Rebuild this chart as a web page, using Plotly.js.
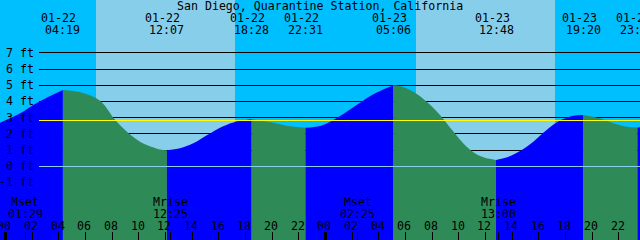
<!DOCTYPE html>
<html><head><meta charset="utf-8">
<script src="https://cdn.plot.ly/plotly-3.0.1.min.js"></script>
<style>html,body{margin:0;padding:0;background:#00BFFF}#chart{width:640px;height:240px}
.shapelayer path{shape-rendering:crispEdges}</style>
</head><body><div id="chart"></div>
<script>
const titleText = 'San Diego, Quarantine Station, California';
// tide curve (hours since 01-22 00:00, height in ft)
const tideHours = [-0.4, 1.125, 2.1, 3.1, 4.317, 5.625, 7.1, 8.25, 9.1, 10.1, 11.6, 12.117,
  13.1, 14.1, 15.15, 16.1, 17.1, 18.467, 20.1, 21.1, 22.517, 23.6, 24.6, 25.6, 26.6, 27.6,
  28.6, 29.1, 29.6, 30.6, 31.6, 32.6, 33.6, 34.6, 35.6, 36.8, 37.65, 38.6, 39.6, 40.6, 41.6,
  42.6, 43.333, 44.6, 45.6, 46.6, 47.417, 47.6];
const tideFeet = [2.69, 3.27, 3.78, 4.23, 4.71, 4.57, 4.05, 2.85, 2.14, 1.52, 1.04, 0.99,
  1.11, 1.42, 1.93, 2.38, 2.71, 2.90, 2.69, 2.51, 2.38, 2.49, 2.86, 3.37, 3.93, 4.44,
  4.83, 5.00, 4.96, 4.60, 3.99, 3.17, 2.14, 1.21, 0.64, 0.39, 0.56, 0.94, 1.52, 2.24, 2.82,
  3.12, 3.17, 2.96, 2.65, 2.44, 2.40, 2.41];
// tide extremes
const extremeHours = [4.317, 12.117, 18.467, 22.517, 29.1, 36.8, 43.333, 47.417];
const extremeDates = ['01-22', '01-22', '01-22', '01-22', '01-23', '01-23', '01-23', '01-23'];
const extremeTimes = ['04:19', '12:07', '18:28', '22:31', '05:06', '12:48', '19:20', '23:25'];
// daylight intervals (hours)
const sunriseHours = [6.825, 30.825];
const sunsetHours = [17.25, 41.25];
// moon events
const moonHours = [1.483, 12.417, 26.417, 37.0];
const moonNames = ['Mset', 'Mrise', 'Mset', 'Mrise'];
const moonTimes = ['01:29', '12:25', '02:25', '13:00'];
// axis ticks
const heightTicks = [-1, 0, 1, 2, 3, 4, 5, 6, 7];
const hourTicks = [0, 2, 4, 6, 8, 10, 12, 14, 16, 18, 20, 22, 24, 26, 28, 30, 32, 34, 36, 38, 40, 42, 44, 46, 48];
const hourLabels = ['00', '02', '04', '06', '08', '10', '12', '14', '16', '18', '20', '22', '00', '02', '04', '06', '08', '10', '12', '14', '16', '18', '20', '22', '00'];
const midnightHours = [0, 24];
const meanLevel = 2.85;

const W = 640, H = 240;
const xRange = [-0.4, 47.6];
const yRange = [-4.55, 10.265];
const FONT = {family: 'DejaVu Sans Mono', size: 11.6, color: '#000'};
const RISE = '#0000FF', FALL = '#2E8B57';
const NIGHT = '#00BFFF', DAY = '#87CEEB';
const py = p => 1 - p / H;   // pixel row -> paper y
const px = p => p / W;       // pixel column -> paper x

const traces = [];
const breaks = [tideHours[0]].concat(extremeHours.filter(h => h > tideHours[0] && h < tideHours[tideHours.length - 1]), [tideHours[tideHours.length - 1]]);
for (let i = 0; i < breaks.length - 1; i++) {
  const a = breaks[i], b = breaks[i + 1];
  const xs = [], ys = [];
  tideHours.forEach((h, k) => { if (h >= a - 1e-9 && h <= b + 1e-9) { xs.push(h); ys.push(tideFeet[k]); } });
  const rising = ys[ys.length - 1] > ys[0];
  traces.push({x: [a, b], y: [yRange[0], yRange[0]], mode: 'lines', line: {width: 0}, hoverinfo: 'skip', showlegend: false});
  traces.push({x: xs, y: ys, mode: 'lines', line: {width: 0, shape: 'spline', color: rising ? RISE : FALL},
    fill: 'tonexty', fillcolor: rising ? RISE : FALL, hoverinfo: 'skip', showlegend: false});
}

const shapes = [];
sunriseHours.forEach((s, i) => shapes.push({type: 'rect', layer: 'below', xref: 'x', yref: 'paper',
  x0: s, x1: sunsetHours[i], y0: 0, y1: 1, fillcolor: DAY, line: {width: 0}}));
heightTicks.filter(v => v > 0).forEach(v => shapes.push({type: 'line', layer: 'between', xref: 'paper', yref: 'y',
  x0: px(39), x1: 1, y0: v, y1: v, line: {color: '#000', width: 1}}));
shapes.push({type: 'line', layer: 'above', xref: 'paper', yref: 'y', x0: px(39), x1: 1, y0: 0, y1: 0, line: {color: '#87CEEB', width: 1}});
shapes.push({type: 'line', layer: 'above', xref: 'paper', yref: 'y', x0: px(39), x1: 1, y0: meanLevel, y1: meanLevel, line: {color: '#FFFF00', width: 1}});
hourTicks.forEach(h => shapes.push({type: 'line', layer: 'above', xref: 'x', yref: 'paper', x0: h, x1: h, y0: 0, y1: 8 / H,
  line: {color: '#000', width: midnightHours.includes(h) ? 2.5 : 1}}));
moonHours.forEach(h => shapes.push({type: 'line', layer: 'above', xref: 'x', yref: 'paper', x0: h, x1: h, y0: 0, y1: 8 / H,
  line: {color: '#000', width: 1}}));

const ann = [];
const note = (o) => ann.push(Object.assign({showarrow: false, font: FONT, yanchor: 'middle'}, o));
note({text: titleText, xref: 'paper', yref: 'paper', x: 0.5, y: py(5.5), xanchor: 'center'});
extremeHours.forEach((h, i) => {
  note({text: extremeDates[i], xref: 'x', yref: 'paper', x: h, y: py(18), xanchor: 'center', xshift: -4});
  note({text: extremeTimes[i], xref: 'x', yref: 'paper', x: h, y: py(30), xanchor: 'center'});
});
heightTicks.forEach(v => note({text: v + ' ft', xref: 'paper', yref: 'y', x: px(36), y: v, xanchor: 'right'}));
moonHours.forEach((h, i) => {
  note({text: moonNames[i], xref: 'x', yref: 'paper', x: h, y: py(201.5), xanchor: 'center'});
  note({text: moonTimes[i], xref: 'x', yref: 'paper', x: h, y: py(213.5), xanchor: 'center'});
});
hourTicks.forEach((h, i) => note({text: hourLabels[i], xref: 'x', yref: 'paper', x: h, y: py(226), xanchor: 'center', xshift: -1}));

const layout = {
  width: W, height: H, margin: {l: 0, r: 0, t: 0, b: 0, pad: 0},
  paper_bgcolor: NIGHT, plot_bgcolor: NIGHT, showlegend: false,
  xaxis: {range: xRange, visible: false, showgrid: false, zeroline: false, fixedrange: true},
  yaxis: {range: yRange, visible: false, showgrid: false, zeroline: false, fixedrange: true},
  shapes: shapes, annotations: ann
};
Plotly.newPlot('chart', traces, layout, {staticPlot: true, displayModeBar: false});
</script></body></html>
